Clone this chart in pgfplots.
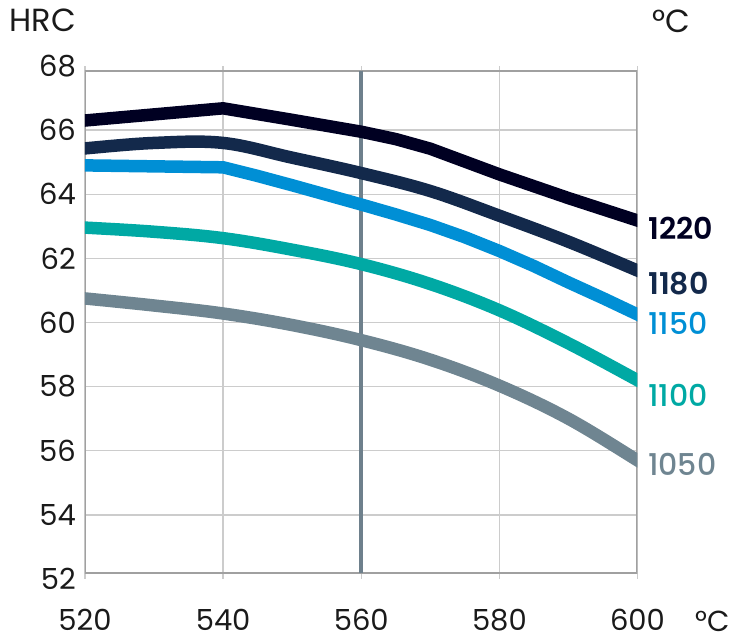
\documentclass[border=0pt]{standalone}
\usepackage{fontspec}
\setmainfont{Poppins}
\newfontfamily\semib{Poppins SemiBold}
\newfontfamily\medb{Poppins Medium}
\usepackage{pgfplots}
\pgfplotsset{compat=1.18}
\definecolor{c1220}{HTML}{000022}
\definecolor{c1180}{HTML}{13294B}
\definecolor{c1150}{HTML}{008FD5}
\definecolor{c1100}{HTML}{00A9A4}
\definecolor{c1050}{HTML}{6F8591}
\definecolor{vline}{HTML}{6E808C}
\definecolor{gridc}{HTML}{CCCCCC}
\definecolor{framec}{HTML}{A0A0A0}
\definecolor{txt}{HTML}{1A1A1A}
\begin{document}
\begin{tikzpicture}
\useasboundingbox (0,0) rectangle (740pt,642pt);
\begin{axis}[
  at={(85pt,63pt)}, anchor=origin,
  scale only axis, width=552.5pt, height=513pt,
  xmin=520, xmax=600, ymin=52, ymax=68,
  xtick={520,540,560,580,600},
  ytick={54,56,58,60,62,64,66},
  extra y ticks={52,68},
  extra y tick style={grid=none},
  axis line style={draw=none},
  major tick length=0pt,
  xmajorgrids, ymajorgrids,
  grid style={gridc, line width=1.3pt},
  /pgf/number format/assume math mode=true,
  /pgf/number format/1000 sep={},
  ticklabel style={font=\fontsize{29}{29}\selectfont, text=txt, inner sep=0pt},
  yticklabel style={anchor=east, xshift=-9pt},
  xticklabel style={anchor=north, yshift=-30pt},
  clip=true,
  every axis plot/.append style={line width=12.5pt, line join=round},
]
\draw[framec, line width=2pt] (axis cs:520,52.2) rectangle (axis cs:600,67.85);
\addplot[vline, line width=4pt] coordinates {(560,52.2) (560,67.85)};
% 1050
\addplot[c1050, smooth, tension=0.6] coordinates {
(518,60.79) (520,60.75) (530,60.53) (540,60.28) (550,59.92) (560,59.45) (570,58.84) (580,58.03) (590,57.00) (600,55.70) (602,55.42)};
% 1100
\addplot[c1100, smooth, tension=0.6] coordinates {
(518,62.98) (520,62.96) (530,62.83) (540,62.63) (550,62.27) (560,61.82) (570,61.20) (580,60.38) (590,59.35) (600,58.20) (602,57.96)};
% 1150
\addplot[c1150] coordinates {
(518,64.91) (520,64.90) (530,64.87) (540,64.84) (545,64.57) (550,64.28) (555,63.98) (560,63.68) (565,63.37) (570,63.04) (575,62.66) (580,62.23) (585,61.76) (590,61.25) (595,60.76) (600,60.25) (602,60.03)};
% 1180
\addplot[c1180, smooth, tension=0.6] coordinates {
(518,65.38) (520,65.43) (530,65.60) (540,65.60) (550,65.14) (560,64.66) (570,64.10) (580,63.33) (590,62.52) (600,61.62) (602,61.43)};
% 1220
\addplot[c1220] coordinates {
(518,66.26) (520,66.30) (540,66.68) (550,66.32) (560,65.95) (565,65.72) (570,65.42) (580,64.62) (590,63.88) (600,63.18) (602,63.04)};
\end{axis}
\begin{scope}[every node/.style={inner sep=0pt}]
\node[anchor=west, text=c1220, font=\fontsize{30}{30}\semib] at (648pt,{642pt-228pt}) {1220};
\node[anchor=west, text=c1180, font=\fontsize{30}{30}\semib] at (648pt,{642pt-284pt}) {1180};
\node[anchor=west, text=c1150, font=\fontsize{30}{30}\medb] at (648pt,{642pt-323pt}) {1150};
\node[anchor=west, text=c1100, font=\fontsize{30}{30}\medb] at (648pt,{642pt-395pt}) {1100};
\node[anchor=west, text=c1050, font=\fontsize{30}{30}\medb] at (648pt,{642pt-464pt}) {1050};
\end{scope}
\begin{scope}[every node/.style={inner sep=0pt, text=txt, font=\fontsize{32}{32}\selectfont}]
\node[anchor=east] at (76pt,621.5pt) {HRC};
\node[anchor=west] at (652pt,621pt) {°C};
\node[anchor=west, font=\fontsize{29}{29}\selectfont] at (695pt,21pt) {°C};
\end{scope}
\end{tikzpicture}
\end{document}
